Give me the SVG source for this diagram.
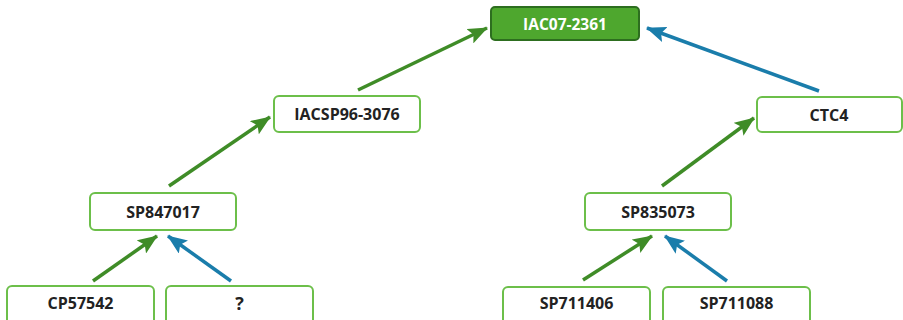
<svg xmlns="http://www.w3.org/2000/svg" width="903" height="320" viewBox="0 0 903 320">
<defs>
<style>
.n rect{fill:#fff;stroke:#6cbf4a;stroke-width:2}
.n text{font-family:"Open Sans","Noto Sans",sans-serif;font-weight:bold;font-size:16px;fill:#222;text-anchor:middle;dominant-baseline:central}
#root rect{fill:#4ea72e;stroke:#2d6e1f}
#root text{fill:#fff;font-size:15.5px}
.g{stroke:#3f8c27;stroke-width:3.5;fill:none;marker-end:url(#ag)}
.b{stroke:#1a7dab;stroke-width:3.5;fill:none;marker-end:url(#ab)}
</style>
<marker id="ag" markerUnits="userSpaceOnUse" markerWidth="20" markerHeight="16" refX="19" refY="8" orient="auto"><path d="M0,0 L20,8 L0,16 L4,8 Z" fill="#3f8c27"/></marker>
<marker id="ab" markerUnits="userSpaceOnUse" markerWidth="20" markerHeight="16" refX="19" refY="8" orient="auto"><path d="M0,0 L20,8 L0,16 L4,8 Z" fill="#1a7dab"/></marker>
</defs>
<g id="connectors">
<line class="g" x1="358" y1="90" x2="487" y2="28"/>
<line class="b" x1="819" y1="91" x2="647" y2="28"/>
<line class="g" x1="169" y1="186" x2="270" y2="117"/>
<line class="g" x1="662" y1="186" x2="754" y2="118"/>
<line class="g" x1="93" y1="281" x2="157" y2="236"/>
<line class="b" x1="231" y1="281" x2="168" y2="236"/>
<line class="g" x1="583" y1="280" x2="652" y2="236"/>
<line class="b" x1="727" y1="281" x2="665" y2="236"/>
</g>
<g id="root" class="n"><rect x="491" y="7" width="148" height="33" rx="4"/><text x="565" y="23.5">IAC07-2361</text></g>
<g id="iacsp" class="n"><rect x="274" y="96" width="146" height="36" rx="5"/><text x="347" y="114">IACSP96-3076</text></g>
<g id="ctc4" class="n"><rect x="757" y="97" width="145" height="35" rx="5"/><text x="829" y="114.5">CTC4</text></g>
<g id="sp847017" class="n"><rect x="90" y="193" width="146" height="37" rx="5"/><text x="163" y="211.5">SP847017</text></g>
<g id="sp835073" class="n"><rect x="585" y="193" width="146" height="37" rx="5"/><text x="658" y="211.5">SP835073</text></g>
<g id="cp57542" class="n"><rect x="7" y="286" width="147" height="40" rx="5"/><text x="80.5" y="303">CP57542</text></g>
<g id="unknown" class="n"><rect x="166" y="286" width="147" height="40" rx="5"/><text x="239.5" y="303" style="font-size:18px">?</text></g>
<g id="sp711406" class="n"><rect x="503" y="287" width="147" height="40" rx="5"/><text x="576.5" y="303">SP711406</text></g>
<g id="sp711088" class="n"><rect x="663" y="287" width="147" height="40" rx="5"/><text x="736.5" y="303">SP711088</text></g>
</svg>
